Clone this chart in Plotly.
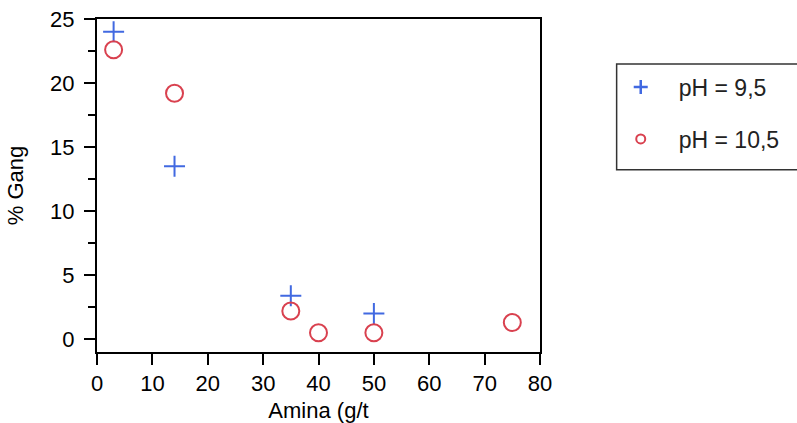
import plotly.graph_objects as go

# Amine dosage (g/t) and gangue content (%) at two pH levels
amina_ph95 = [3, 14, 35, 50]
gang_ph95 = [24.0, 13.5, 3.4, 2.0]

amina_ph105 = [3, 14, 35, 40, 50, 75]
gang_ph105 = [22.6, 19.2, 2.2, 0.5, 0.5, 1.3]

labels = ["pH = 9,5", "pH = 10,5"]
x_ticks = [0, 10, 20, 30, 40, 50, 60, 70, 80]
y_ticks = [0, 5, 10, 15, 20, 25]

BLUE = "#4169E1"
RED = "#D9414F"
FONT = "Liberation Sans, Arial, sans-serif"

fig = go.Figure()

fig.add_trace(go.Scatter(
    x=amina_ph95, y=gang_ph95, mode="markers", showlegend=False,
    marker=dict(symbol="cross-thin", size=15, line=dict(color=BLUE, width=2)),
))
fig.add_trace(go.Scatter(
    x=amina_ph105, y=gang_ph105, mode="markers", showlegend=False,
    marker=dict(symbol="circle-open", size=17, color=RED, line=dict(color=RED, width=2)),
))

# Legend entries with smaller symbols than the plotted markers
fig.add_trace(go.Scatter(
    x=[None], y=[None], mode="markers", name=labels[0], legendgroup="a",
    marker=dict(symbol="cross-thin", size=10, line=dict(color=BLUE, width=2.5)),
))
fig.add_trace(go.Scatter(
    x=[None], y=[None], mode="markers", name=labels[1], legendgroup="b",
    marker=dict(symbol="circle-open", size=9, color=RED, line=dict(color=RED, width=2)),
))

axis_common = dict(
    showline=True, linecolor="black", linewidth=2, mirror=True,
    ticks="outside", ticklen=11, tickwidth=2, tickcolor="black",
    showgrid=False, zeroline=False, automargin=False,
    tickfont=dict(family=FONT, size=22, color="black"),
)

fig.update_xaxes(
    range=[0, 80], tickvals=x_ticks, **axis_common,
    title=dict(text="Amina (g/t", font=dict(family=FONT, size=22, color="black"), standoff=16),
)
fig.update_yaxes(
    range=[-1, 25], tickvals=y_ticks, **axis_common, ticklabelstandoff=5,
    minor=dict(ticks="outside", ticklen=7, tickwidth=2, tickcolor="black", dtick=2.5, tick0=0),
    title=dict(text="% Gang", font=dict(family=FONT, size=22, color="black"), standoff=20),
)

fig.add_shape(
    type="rect", xref="paper", yref="paper",
    x0=1.173, x1=1.7, y0=0.547, y1=0.865,
    line=dict(color="#333333", width=1.5), fillcolor="rgba(0,0,0,0)",
)

fig.update_layout(
    width=797, height=423,
    margin=dict(l=97, r=255, t=19, b=71),
    paper_bgcolor="white", plot_bgcolor="white",
    font=dict(family=FONT, size=22, color="black"),
    legend=dict(
        x=1.1416, y=0.86, xanchor="left", yanchor="top",
        bgcolor="rgba(0,0,0,0)", borderwidth=0,
        traceorder="grouped", tracegroupgap=19, itemwidth=66,
        font=dict(family=FONT, size=23, color="#222222"),
    ),
)

fig.write_html("out.html")
